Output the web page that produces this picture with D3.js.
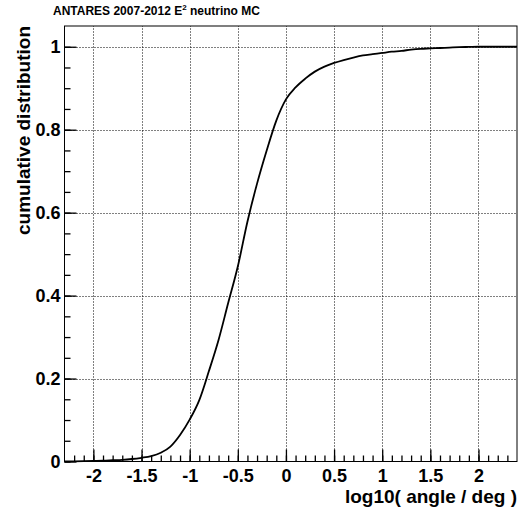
<!DOCTYPE html>
<html>
<head>
<meta charset="utf-8">
<script src="https://cdn.jsdelivr.net/npm/d3@7"></script>
<style>
  body { margin: 0; background: #fff; }
  text { font-family: "Liberation Sans", Arial, Helvetica, sans-serif; font-weight: bold; }
</style>
</head>
<body>
<div id="chart"></div>
<script>
// log10(angle/deg) sample points and cumulative fraction
let logAngle = [-2.3, -2.2, -2.1, -2.0, -1.9, -1.8, -1.7, -1.6, -1.5, -1.4, -1.3, -1.2, -1.1, -1.0,
  -0.9, -0.8, -0.7, -0.6, -0.5, -0.4, -0.3, -0.2, -0.1, 0.0, 0.1, 0.2, 0.3, 0.4, 0.5, 0.6, 0.7,
  0.8, 0.9, 1.0, 1.1, 1.2, 1.3, 1.4, 1.5, 1.6, 1.7, 1.8, 1.9, 2.0, 2.1, 2.2, 2.3, 2.4]
let cumulative = [0.0, 0.0005, 0.001, 0.0015, 0.002, 0.003, 0.004, 0.006, 0.009, 0.013, 0.021, 0.036, 0.064, 0.101,
  0.148, 0.218, 0.293, 0.382, 0.470, 0.578, 0.670, 0.750, 0.822, 0.873, 0.902, 0.923, 0.940, 0.952, 0.961, 0.968, 0.974,
  0.979, 0.982, 0.985, 0.988, 0.990, 0.993, 0.995, 0.996, 0.997, 0.998, 0.999, 0.9995, 1.0, 1.0, 1.0, 1.0, 1.0]

let xTicks = [-2, -1.5, -1, -0.5, 0, 0.5, 1, 1.5, 2]
let yTicks = [0, 0.2, 0.4, 0.6, 0.8, 1]
let xMinor = d3.range(-22, 24).map(v => v / 10)
let yMinor = d3.range(0, 21).map(v => v / 20)

let width = 524, height = 514
let margin = ({top: 26, right: 7, bottom: 52.5, left: 64.5})

let x = d3.scaleLinear()
  .domain([-2.3, 2.4])
  .range([margin.left, width - margin.right])

let y = d3.scaleLinear()
  .domain([0, 1.05])
  .range([height - margin.bottom, margin.top])

const svg = d3.select("#chart").append("svg")
  .attr("width", width)
  .attr("height", height)
  .attr("viewBox", [0, 0, width, height])

// dotted grid at the major ticks
svg.append("g")
  .selectAll("line")
  .data(xTicks)
  .join("line")
  .attr("x1", d => Math.round(x(d)) + 0.5)
  .attr("x2", d => Math.round(x(d)) + 0.5)
  .attr("y1", y.range()[0])
  .attr("y2", y.range()[1])
  .attr("stroke", "#000")
  .attr("stroke-dasharray", "1,2")

svg.append("g")
  .selectAll("line")
  .data(yTicks.filter(d => d > 0))
  .join("line")
  .attr("x1", x.range()[0])
  .attr("x2", x.range()[1])
  .attr("y1", d => Math.round(y(d)) + 0.5)
  .attr("y2", d => Math.round(y(d)) + 0.5)
  .attr("stroke", "#000")
  .attr("stroke-dasharray", "1,2")

let fmt = d => String(d)

// ticks point into the frame, so the inner size is negative
let xAxis = g => g
  .attr("transform", `translate(0,${y.range()[0]})`)
  .call(d3.axisBottom(x).tickValues(xTicks).tickFormat(fmt).tickSizeInner(-12).tickSizeOuter(0).tickPadding(8))
  .call(g => g.selectAll(".domain").remove())
  .call(g => g.selectAll("text").attr("font-size", 18).attr("fill", "#000"))

let xAxisMinor = g => g
  .attr("transform", `translate(0,${y.range()[0]})`)
  .call(d3.axisBottom(x).tickValues(xMinor).tickFormat(() => "").tickSizeInner(-6).tickSizeOuter(0))
  .call(g => g.selectAll(".domain").remove())

let yAxis = g => g
  .attr("transform", `translate(${x.range()[0]},0)`)
  .call(d3.axisLeft(y).tickValues(yTicks).tickFormat(fmt).tickSizeInner(-12).tickSizeOuter(0).tickPadding(4))
  .call(g => g.selectAll(".domain").remove())
  .call(g => g.selectAll("text").attr("font-size", 18).attr("fill", "#000"))

let yAxisMinor = g => g
  .attr("transform", `translate(${x.range()[0]},0)`)
  .call(d3.axisLeft(y).tickValues(yMinor).tickFormat(() => "").tickSizeInner(-6).tickSizeOuter(0))
  .call(g => g.selectAll(".domain").remove())

svg.append("g").call(xAxisMinor)
svg.append("g").call(yAxisMinor)
svg.append("g").call(xAxis)
svg.append("g").call(yAxis)
svg.selectAll(".tick line")
  .attr("stroke", "#000")
  .attr("stroke-width", 1.3)

// frame
svg.append("rect")
  .attr("x", x.range()[0])
  .attr("y", y.range()[1])
  .attr("width", x.range()[1] - x.range()[0])
  .attr("height", y.range()[0] - y.range()[1])
  .attr("fill", "none")
  .attr("stroke", "#000")

// curve
let line = d3.line()
  .x((d, i) => x(logAngle[i]))
  .y(d => y(d))
  .curve(d3.curveMonotoneX)

svg.append("path")
  .datum(cumulative)
  .attr("fill", "none")
  .attr("stroke", "#000")
  .attr("stroke-width", 1.8)
  .attr("d", line)

// titles
svg.append("text")
  .attr("x", x.range()[1])
  .attr("y", 503)
  .attr("text-anchor", "end")
  .attr("font-size", 19)
  .text("log10( angle / deg )")

svg.append("text")
  .attr("transform", `translate(30,${y.range()[1]}) rotate(-90)`)
  .attr("text-anchor", "end")
  .attr("font-size", 19)
  .text("cumulative distribution")

let title = svg.append("text")
  .attr("x", 53)
  .attr("y", 15)
  .attr("font-size", 12)
title.append("tspan").text("ANTARES 2007-2012 E")
title.append("tspan").attr("dy", -5).attr("font-size", 8).text("2")
title.append("tspan").attr("dy", 5).text(" neutrino MC")
</script>
</body>
</html>
